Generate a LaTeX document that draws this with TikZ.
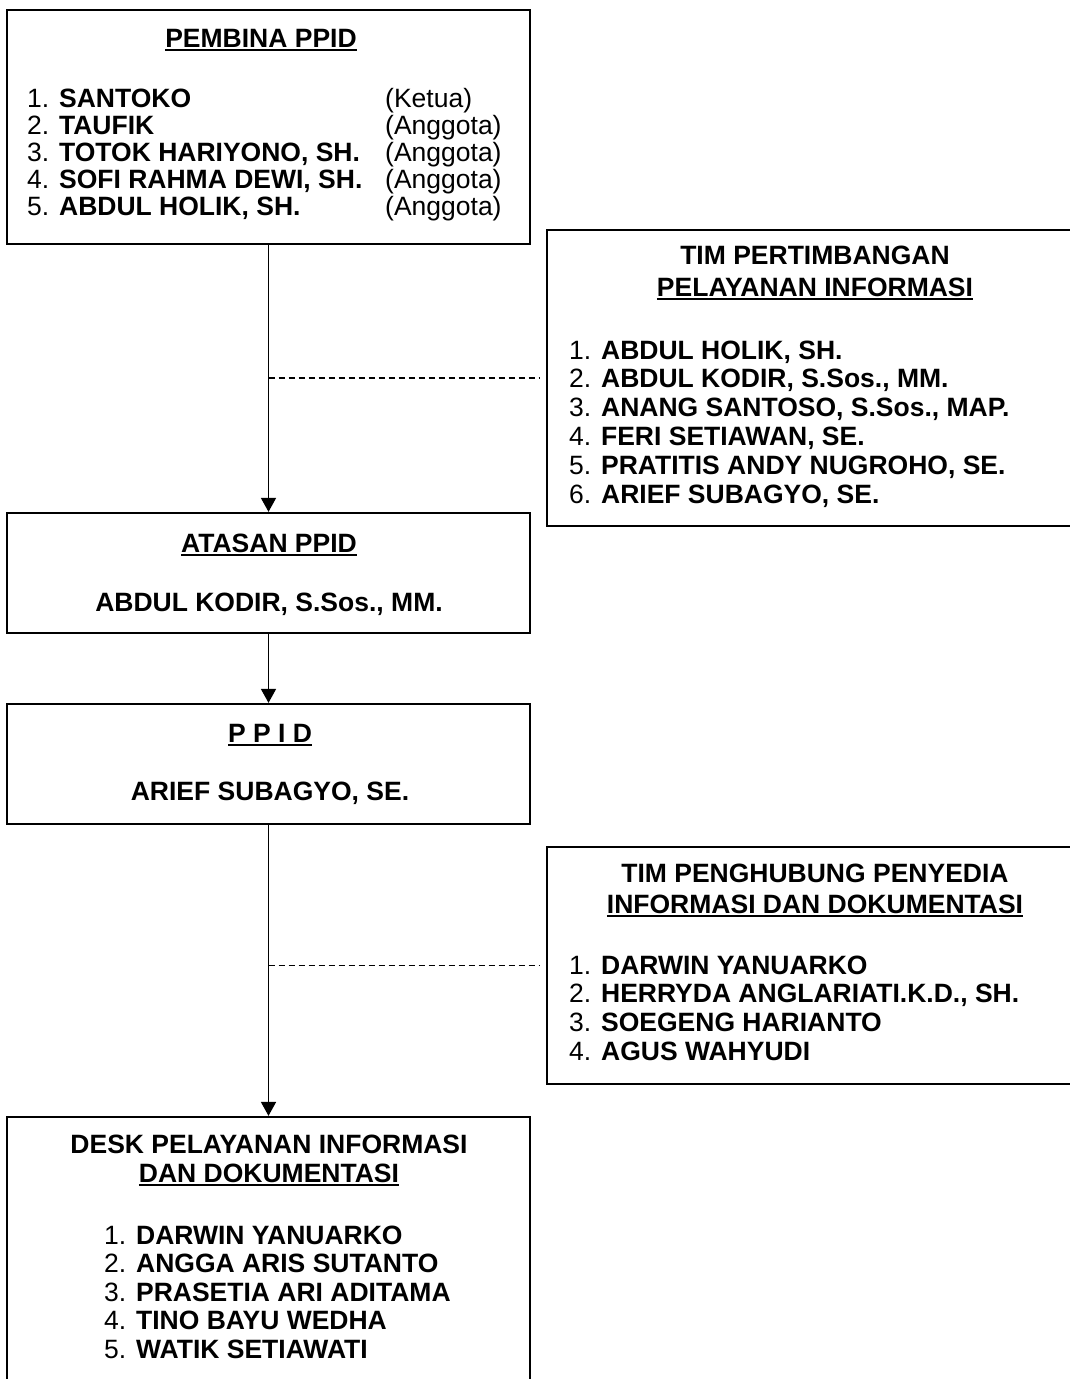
\documentclass[tikz,border=0pt]{standalone}
\usepackage{fontspec}
\setmainfont{Liberation Sans}
\usetikzlibrary{arrows.meta,positioning}
\newcommand{\ultext}[1]{\setbox0\hbox{#1}\rlap{\rule[-4pt]{\wd0}{2pt}}\box0}

\begin{document}
\begin{tikzpicture}[x=1pt,y=-1pt,
  every node/.style={font=\fontsize{26.5}{27}\selectfont, inner sep=0pt},
  orgbox/.style={draw, line width=2.3pt, rectangle},
  arrowline/.style={line width=1.8pt, -{Triangle[width=15pt,length=14pt]}},
  dashline/.style={line width=1.1pt, dash pattern=on 6pt off 4pt, shorten >=7pt}]
\useasboundingbox (0,0) rectangle (1069,1379);

% boxes on the left
\node[orgbox, minimum width=523pt, minimum height=234pt] (pembina) at (268.5,127) {};
\node[orgbox, minimum width=523pt, minimum height=120pt] (atasan) at (268.5,573) {};
\node[orgbox, minimum width=523pt, minimum height=120pt] (ppid) at (268.5,764) {};
\node[orgbox, minimum width=523pt, minimum height=283pt] (desk) at (268.5,1258.5) {};

% boxes on the right
\node[orgbox, minimum width=536pt, minimum height=296pt] (timpert) at (815,378) {};
\node[orgbox, minimum width=536pt, minimum height=237pt] (timhub) at (815,965.5) {};

% pembina
\node[anchor=base] (pembina-t) at (261,47) {\bfseries\ultext{PEMBINA PPID}};
\foreach \nm/\rl [count=\i] in {{SANTOKO}/{Ketua}, {TAUFIK}/{Anggota},
    {TOTOK HARIYONO, SH.}/{Anggota}, {SOFI RAHMA DEWI, SH.}/{Anggota},
    {ABDUL HOLIK, SH.}/{Anggota}}{
  \node[anchor=base west] (pembina-\i) at (27,{107+27*(\i-1)}) {\i. \textbf{\nm}};
  \node[anchor=base west] (pembina-r\i) at (385,{107+27*(\i-1)}) {(\rl)};
}

% tim pertimbangan
\node[anchor=base] (timpert-t) at (815,264) {\bfseries TIM PERTIMBANGAN};
\node[anchor=base] (timpert-u) at (815,296) {\bfseries\ultext{PELAYANAN INFORMASI}};
\foreach \nm [count=\i] in {{ABDUL HOLIK, SH.}, {ABDUL KODIR, S.Sos., MM.},
    {ANANG SANTOSO, S.Sos., MAP.}, {FERI SETIAWAN, SE.},
    {PRATITIS ANDY NUGROHO, SE.}, {ARIEF SUBAGYO, SE.}}{
  \node[anchor=base west] (timpert-\i) at (569,{359+28.8*(\i-1)}) {\i. \textbf{\nm}};
}

% atasan and ppid
\node[anchor=base] (atasan-t) at (269,552) {\bfseries\ultext{ATASAN PPID}};
\node[anchor=base] (atasan-n) at (269,611) {\bfseries ABDUL KODIR, S.Sos., MM.};
\node[anchor=base] (ppid-t) at (270,742) {\bfseries\ultext{P P I D}};
\node[anchor=base] (ppid-n) at (270,800) {\bfseries ARIEF SUBAGYO, SE.};

% tim penghubung
\node[anchor=base] (timhub-t) at (815,882) {\bfseries TIM PENGHUBUNG PENYEDIA};
\node[anchor=base] (timhub-u) at (815,913) {\bfseries\ultext{INFORMASI DAN DOKUMENTASI}};
\foreach \nm [count=\i] in {{DARWIN YANUARKO}, {HERRYDA ANGLARIATI.K.D., SH.},
    {SOEGENG HARIANTO}, {AGUS WAHYUDI}}{
  \node[anchor=base west] (timhub-\i) at (569,{974+28.8*(\i-1)}) {\i. \textbf{\nm}};
}

% desk
\node[anchor=base] (desk-t) at (269,1153) {\bfseries DESK PELAYANAN INFORMASI};
\node[anchor=base] (desk-u) at (269,1182) {\bfseries\ultext{DAN DOKUMENTASI}};
\foreach \nm [count=\i] in {{DARWIN YANUARKO}, {ANGGA ARIS SUTANTO},
    {PRASETIA ARI ADITAMA}, {TINO BAYU WEDHA}, {WATIK SETIAWATI}}{
  \node[anchor=base west] (desk-\i) at (104,{1244+28.6*(\i-1)}) {\i. \textbf{\nm}};
}

% connectors
\draw[arrowline] (pembina.south) -- (atasan.north);
\draw[arrowline] (atasan.south) -- (ppid.north);
\draw[arrowline] (ppid.south) -- (desk.north);
\coordinate (j1) at (pembina.south |- timpert.west);
\coordinate (j2) at (ppid.south |- timhub.west);
\draw[dashline] (j1) -- (timpert.west);
\draw[dashline] (j2) -- (timhub.west);

\end{tikzpicture}
\end{document}
